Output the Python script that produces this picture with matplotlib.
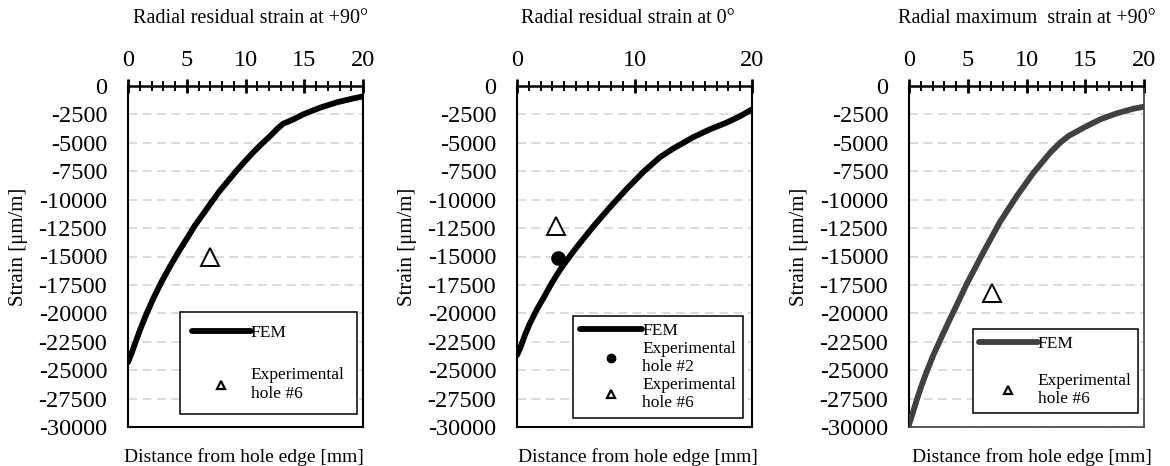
import matplotlib
matplotlib.use('Agg')
import matplotlib.pyplot as plt
from matplotlib.lines import Line2D
from matplotlib.ticker import MultipleLocator

plt.rcParams['font.family'] = ['Liberation Serif', 'DejaVu Serif']
plt.rcParams['axes.unicode_minus'] = False

titles = ['Radial residual strain at +90°',
          'Radial residual strain at 0°',
          'Radial maximum  strain at +90°']
x_label = 'Distance from hole edge [mm]'
y_label = 'Strain [μm/m]'

# FEM curves
fem1_x = [0, 0.31, 0.6, 1.02, 1.59, 2.16, 2.87, 3.57, 4.28, 5.0, 5.7, 6.41, 7.12, 7.83, 8.54,
          9.25, 9.96, 10.67, 11.38, 12.09, 12.65, 13.2, 14.07, 14.9, 16.34, 17.76, 19.18, 20]
fem1_y = [-24300, -23500, -22650, -21470, -20000, -18680, -17200, -15880, -14620, -13440, -12260,
          -11240, -10200, -9200, -8320, -7440, -6620, -5820, -5090, -4410, -3820, -3320, -2940,
          -2500, -1910, -1440, -1090, -920]

fem2_x = [0, 0.26, 0.68, 1.1, 1.67, 2.24, 2.95, 3.66, 4.37, 5.08, 6.5, 7.9, 9.33, 10.75, 12.17,
          13.3, 14.16, 15.0, 16.4, 17.8, 19.0, 20]
fem2_y = [-23680, -23090, -21900, -20880, -19700, -18680, -17350, -16180, -15150, -14180, -12350,
          -10680, -9060, -7560, -6260, -5500, -5000, -4500, -3820, -3240, -2650, -2060]

fem3_x = [0, 0.31, 0.65, 1.08, 1.5, 2.07, 2.78, 3.49, 4.2, 4.9, 6.33, 7.74, 9.16, 10.58, 12.0,
          12.85, 13.56, 14.84, 16.26, 17.67, 19.09, 20]
fem3_y = [-29800, -28800, -27650, -26320, -25150, -23680, -22060, -20500, -18970, -17440, -14620,
          -11970, -9700, -7650, -5880, -5000, -4410, -3680, -2940, -2410, -2000, -1820]

# Experimental points
exp1_h6_x, exp1_h6_y = [7.0], [-15000]
exp2_h2_x, exp2_h2_y = [3.5], [-15100]
exp2_h6_x, exp2_h6_y = [3.3], [-12300]
exp3_h6_x, exp3_h6_y = [7.1], [-18200]

fem_colors = ['black', 'black', '#404040']

fig = plt.figure(figsize=(11.7, 4.66), dpi=100)
W, H = 1170, 466
lefts = [128, 517, 909]
ax_w = 235
ax_top, ax_bot = 86, 427

axes = []
for i, l in enumerate(lefts):
    ax = fig.add_axes([l / W, 1 - ax_bot / H, ax_w / W, (ax_bot - ax_top) / H])
    axes.append(ax)

title_x = [0.523, 0.472, 0.502]
xlabel_x = [0.494, 0.513, 0.522]
legend_anchor = [(0.974, 0.038), (0.962, 0.026), (0.974, 0.041)]

for i, ax in enumerate(axes):
    ax.set_xlim(0, 20)
    ax.set_ylim(-30000, 0)
    ax.xaxis.tick_top()
    ax.xaxis.set_major_locator(MultipleLocator(10 if i == 1 else 5))
    ax.xaxis.set_minor_locator(MultipleLocator(1))
    ax.yaxis.set_major_locator(MultipleLocator(2500))
    ax.tick_params(axis='x', which='major', direction='inout', length=10, width=2.0,
                   labelsize=17.5, pad=6, top=True, bottom=False, labeltop=True, labelbottom=False)
    ax.tick_params(axis='x', which='minor', direction='inout', length=6.5, width=1.4,
                   top=True, bottom=False)
    ax.tick_params(axis='y', which='major', length=0, labelsize=17.5, pad=15)
    ax.set_axisbelow(True)
    ax.yaxis.grid(True, color='#d9d9d9', linestyle=(0, (5, 3)), linewidth=1.3)
    ax.spines['top'].set_linewidth(1.8)
    ax.spines['left'].set_linewidth(1.5)
    if i == 2:
        for s in ['right', 'bottom']:
            ax.spines[s].set_color('#404040')
            ax.spines[s].set_linewidth(1.2)
    else:
        for s in ['right', 'bottom']:
            ax.spines[s].set_linewidth(1.5)
    ax.text(title_x[i], 1.199, titles[i], transform=ax.transAxes, ha='center', va='center',
            fontsize=14.5)
    ax.text(xlabel_x[i], -0.088, x_label, transform=ax.transAxes, ha='center', va='center',
            fontsize=14)
    ax.set_ylabel(y_label, fontsize=15)
    ax.yaxis.set_label_coords(-0.425, 0.528)

tri_kw = dict(marker='^', markersize=13, markerfacecolor='white', markeredgecolor='black',
              markeredgewidth=1.4, linestyle='none')
dot_kw = dict(marker='o', markersize=9.5, color='black', linestyle='none')

LW = 4.2
axes[0].plot(fem1_x, fem1_y, color=fem_colors[0], lw=LW, solid_capstyle='round',
             solid_joinstyle='round', zorder=3)
axes[0].plot(exp1_h6_x, exp1_h6_y, zorder=4, **tri_kw)
axes[1].plot(fem2_x, fem2_y, color=fem_colors[1], lw=LW, solid_capstyle='round',
             solid_joinstyle='round', zorder=3)
axes[1].plot(exp2_h2_x, exp2_h2_y, zorder=4, **dot_kw)
axes[1].plot(exp2_h6_x, exp2_h6_y, zorder=4, **tri_kw)
axes[2].plot(fem3_x, fem3_y, color=fem_colors[2], lw=LW, solid_capstyle='round',
             solid_joinstyle='round', zorder=3)
axes[2].plot(exp3_h6_x, exp3_h6_y, zorder=4, **tri_kw)

def fem_handle(c):
    return Line2D([], [], color=c, lw=LW, solid_capstyle='round')

tri_small = Line2D([], [], marker='^', markersize=6, markerfacecolor='white',
                   markeredgecolor='black', markeredgewidth=1.6, linestyle='none')
dot_small = Line2D([], [], marker='o', markersize=6, color='black', linestyle='none')

legend_sets = [
    ([fem_handle(fem_colors[0]), tri_small], ['FEM', 'Experimental\nhole #6']),
    ([fem_handle(fem_colors[1]), dot_small, tri_small],
     ['FEM', 'Experimental\nhole #2', 'Experimental\nhole #6']),
    ([fem_handle(fem_colors[2]), tri_small], ['FEM', 'Experimental\nhole #6']),
]
spacings = [1.55, 0.1, 1.2]
borderpads = [0.7, 0.4, 0.35]
handlelens = [3.4, 3.6, 3.4]
for i, ax in enumerate(axes):
    h, lab = legend_sets[i]
    leg = ax.legend(h, lab, loc='lower right', bbox_to_anchor=legend_anchor[i],
                    fontsize=12.5, handlelength=handlelens[i], handletextpad=0.0,
                    labelspacing=spacings[i], borderpad=borderpads[i], fancybox=False,
                    edgecolor='black', framealpha=1, borderaxespad=0)
    leg.get_frame().set_linewidth(1.1)

fig.savefig('out.png', dpi=100)
